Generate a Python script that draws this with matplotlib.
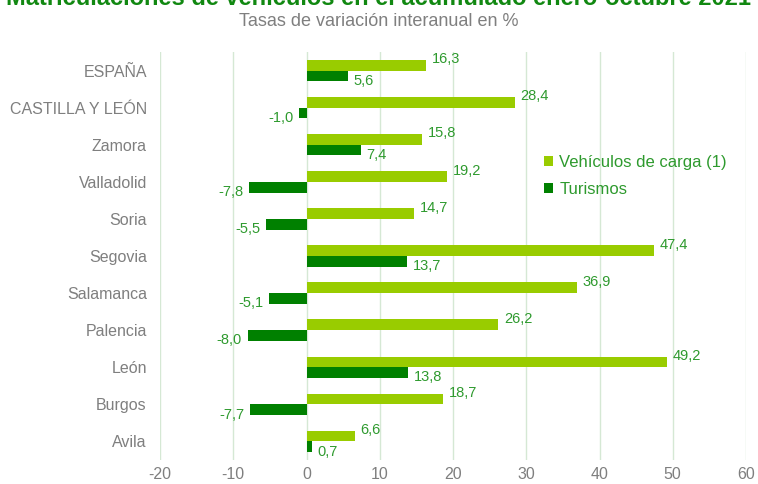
import matplotlib
matplotlib.use("Agg")
import matplotlib.pyplot as plt
import numpy as np

plt.rcParams["font.family"] = ["Liberation Sans", "DejaVu Sans"]

categories = ["ESPAÑA", "CASTILLA Y LEÓN", "Zamora", "Valladolid", "Soria", "Segovia",
              "Salamanca", "Palencia", "León", "Burgos", "Avila"]
carga = [16.3, 28.4, 15.8, 19.2, 14.7, 47.4, 36.9, 26.2, 49.2, 18.7, 6.6]
turismos = [5.6, -1.0, 7.4, -7.8, -5.5, 13.7, -5.1, -8.0, 13.8, -7.7, 0.7]
xticks = [-20, -10, 0, 10, 20, 30, 40, 50, 60]

light = "#99CC00"
dark = "#008000"
label_col = "#2E9A2E"
gray = "#7F7F7F"

fig = plt.figure(figsize=(7.58, 4.84), dpi=100)
ax = fig.add_axes([160/758, 1 - 460/484, (746-160)/758, (460-52)/484])

y = np.arange(len(categories))
h = 0.29
ax.barh(y - h/2, carga, height=h, color=light, label="Vehículos de carga (1)", zorder=3)
ax.barh(y + h/2, turismos, height=h, color=dark, label="Turismos", zorder=3)

def fmt(v):
    return f"{v:.1f}".replace(".", ",")

for yi, v in zip(y, carga):
    ha = "left" if v >= 0 else "right"
    off = 0.8 if v >= 0 else -0.8
    ax.text(v + off, yi - h*1.05, fmt(v), ha=ha, va="center", color=label_col, fontsize=10.5, zorder=4)
for yi, v in zip(y, turismos):
    ha = "left" if v >= 0 else "right"
    off = 0.8 if v >= 0 else -0.8
    ax.text(v + off, yi + h*0.95, fmt(v), ha=ha, va="center", color=label_col, fontsize=10.5, zorder=4)

ax.set_xlim(-20, 60)
ax.set_ylim(len(categories) - 0.5, -0.5)
ax.set_xticks(xticks)
ax.set_xticklabels([str(t) for t in xticks])
ax.set_yticks(y)
ax.set_yticklabels(categories)
ax.tick_params(axis="both", length=0, colors=gray, labelsize=11.5)
ax.tick_params(axis="y", pad=9.5)
ax.tick_params(axis="x", pad=5)
for s in ax.spines.values():
    s.set_visible(False)
ax.xaxis.grid(True, color="#D5E8D4", linewidth=1, zorder=0)
ax.set_axisbelow(True)

leg = ax.legend(loc="upper left", bbox_to_anchor=(0.63, 0.785), frameon=False,
                fontsize=12, handlelength=0.55, handleheight=0.55, handletextpad=0.35,
                labelspacing=0.75)
for t in leg.get_texts():
    t.set_color(label_col)

fig.text(0.5, 1 - 5/484, "Matriculaciones de vehículos en el acumulado enero-octubre 2021",
         ha="center", va="baseline", fontsize=17, fontweight="bold", color="#118811")
fig.text(0.5, 1 - 21/484, "Tasas de variación interanual en %", ha="center", va="center",
         fontsize=13, color=gray)

fig.savefig("out.png", dpi=100)
